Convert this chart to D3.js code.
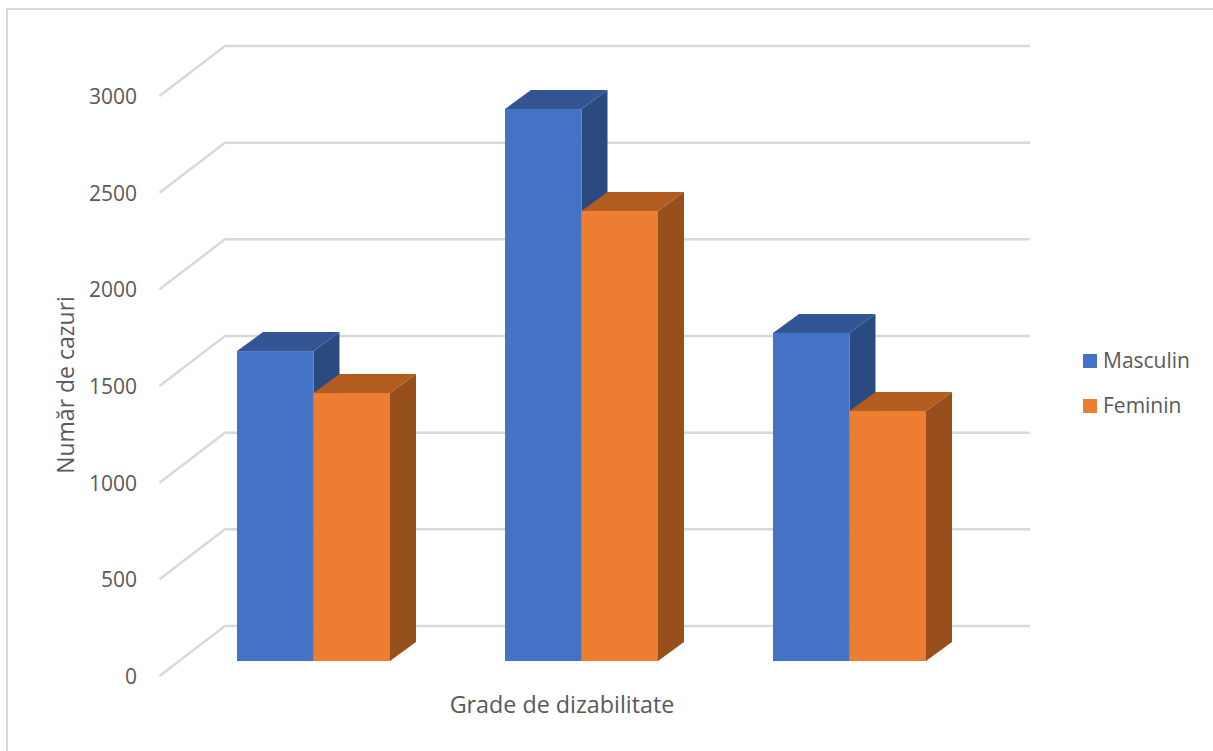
<!DOCTYPE html>
<html>
<head>
<meta charset="utf-8">
<script src="https://cdn.jsdelivr.net/npm/d3@7"></script>
<style>
body { margin: 0; background: #fff; }
text { font-family: "Open Sans", "Noto Sans", sans-serif; fill: #595959; }
</style>
</head>
<body>
<div id="canvas"></div>
<script>
var w = 1213;
var h = 751;

// the original shows no category labels, only the axis title
var categories = ["1", "2", "3"];
var seriesNames = ["Masculin", "Feminin"];
var masculin = [1603, 2855, 1697];
var feminin = [1386, 2328, 1293];
var yTicks = [0, 500, 1000, 1500, 2000, 2500, 3000];
var xTitle = "Grade de dizabilitate";
var yTitle = "Număr de cazuri";

var colors = {
	Masculin: { front: "#4472c4", top: "#335593", side: "#2a4a80" },
	Feminin: { front: "#ed7d31", top: "#b35c20", side: "#97501c" }
};

var svg = d3.select("#canvas").append("svg")
	.attr("width", w)
	.attr("height", h)
	.style("display", "block");

// frame, only top and left are inside the picture
svg.append("path")
	.attr("d", "M7,751V9H1213")
	.attr("fill", "none")
	.attr("stroke", "#d9d9d9")
	.attr("stroke-width", 2);

var yScale = d3.scaleLinear().domain([0, 3000]).range([676, 96]);

// depth of the back wall
var wallX = 65.5, wallY = -50;
// bars stand part way into the floor, and have their own depth
var barX = 20, barY = -15;
var depthX = 26, depthY = -19;

var xScale = d3.scaleBand()
	.domain(categories)
	.range([160, 963])
	.paddingInner(115 / 268)
	.paddingOuter(57 / 268);

var seriesScale = d3.scaleBand()
	.domain(seriesNames)
	.range([0, xScale.bandwidth()]);

// gridlines with the slanted part on the side wall
var grid = svg.append("g");
yTicks.forEach(function(t) {
	var y = yScale(t);
	grid.append("path")
		.attr("d", d3.line()([[159.5, y], [159.5 + wallX, y + wallY], [1030, y + wallY]]))
		.attr("fill", "none")
		.attr("stroke", "#d9d9d9")
		.attr("stroke-width", 2.5);
	grid.append("text")
		.attr("x", 137)
		.attr("y", y + 8)
		.attr("text-anchor", "end")
		.style("font-size", "21px")
		.text(t);
});

function drawBar(g, name, category, value) {
	var x0 = xScale(category) + seriesScale(name) + barX;
	var x1 = x0 + seriesScale.bandwidth();
	var y0 = yScale(0) + barY;
	var y1 = yScale(value) + barY;
	var c = colors[name];

	g.append("polygon")
		.attr("points", [[x1, y1], [x1 + depthX, y1 + depthY], [x1 + depthX, y0 + depthY], [x1, y0]].join(" "))
		.attr("fill", c.side);
	g.append("polygon")
		.attr("points", [[x0, y1], [x0 + depthX, y1 + depthY], [x1 + depthX, y1 + depthY], [x1, y1]].join(" "))
		.attr("fill", c.top);
	g.append("rect")
		.attr("x", x0)
		.attr("y", y1)
		.attr("width", x1 - x0)
		.attr("height", y0 - y1)
		.attr("fill", c.front);
}

categories.forEach(function(cat, i) {
	var g = svg.append("g");
	drawBar(g, "Masculin", cat, masculin[i]);
	drawBar(g, "Feminin", cat, feminin[i]);
});

svg.append("text")
	.attr("x", 562)
	.attr("y", 713)
	.attr("text-anchor", "middle")
	.style("font-size", "23.3px")
	.text(xTitle);

svg.append("text")
	.attr("transform", "translate(74,385) rotate(-90)")
	.attr("text-anchor", "middle")
	.style("font-size", "23px")
	.text(yTitle);

seriesNames.forEach(function(name, i) {
	var y = 354 + i * 45;
	svg.append("rect")
		.attr("x", 1083)
		.attr("y", y)
		.attr("width", 14)
		.attr("height", 14)
		.attr("fill", colors[name].front);
	svg.append("text")
		.attr("x", 1103)
		.attr("y", y + 14)
		.style("font-size", "21px")
		.text(name);
});
</script>
</body>
</html>
